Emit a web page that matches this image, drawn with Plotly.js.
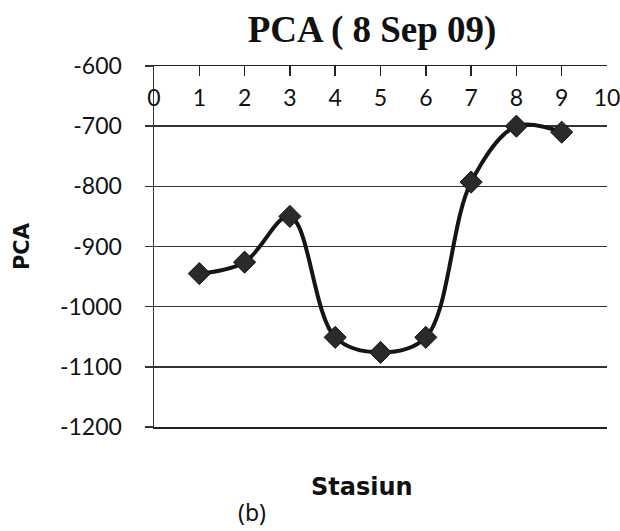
<!DOCTYPE html>
<html>
<head>
<meta charset="utf-8">
<script src="https://cdn.plot.ly/plotly-3.0.1.min.js"></script>
<style>html,body{margin:0;padding:0;background:#fff;}#chart{width:620px;height:531px;}</style>
</head>
<body>
<div id="chart"></div>
<script>
const stations = [1, 2, 3, 4, 5, 6, 7, 8, 9];
const pcaValues = [-945, -926, -850, -1051, -1076, -1051, -793, -700, -710];
const xTicks = [0, 1, 2, 3, 4, 5, 6, 7, 8, 9, 10];
const yTicks = [-600, -700, -800, -900, -1000, -1100, -1200];

const trace = {
  x: stations,
  y: pcaValues,
  type: 'scatter',
  mode: 'lines+markers',
  line: {shape: 'spline', smoothing: 1, color: '#151515', width: 4},
  marker: {symbol: 'diamond', size: 17, color: '#2a2a2a', line: {color: '#111', width: 1}},
  hoverinfo: 'none'
};

// invisible companion trace so the label axis (x2) is drawn
const labelTrace = {
  x: stations,
  y: pcaValues,
  xaxis: 'x2',
  type: 'scatter',
  mode: 'markers',
  marker: {opacity: 0},
  hoverinfo: 'none'
};

const tickFont = {family: 'Lato, Carlito, sans-serif', size: 23, color: '#111'};

const layout = {
  width: 620, height: 531,
  margin: {l: 154, r: 13, t: 66, b: 104},
  paper_bgcolor: '#fff', plot_bgcolor: '#fff',
  showlegend: false,
  title: {
    text: '<b>PCA ( 8 Sep 09)</b>',
    font: {family: 'Liberation Serif, Times New Roman, serif', size: 37, color: '#111'},
    x: 0.6, xanchor: 'center', y: 0.945, yanchor: 'middle'
  },
  xaxis: {
    range: [0, 10], side: 'top', tickvals: xTicks,
    ticks: 'inside', ticklen: 10, tickwidth: 1.5, tickcolor: '#222',
    showticklabels: false,
    showline: true, linecolor: '#222', linewidth: 1.5, mirror: true,
    showgrid: false, zeroline: false
  },
  xaxis2: {
    range: [0, 10], overlaying: 'x', anchor: 'free', side: 'bottom', position: 0.955,
    tickvals: xTicks, ticktext: xTicks.map(String), ticks: '', showline: false,
    ticklabeloverflow: 'allow',
    showgrid: false, zeroline: false, tickfont: tickFont
  },
  yaxis: {
    range: [-1200, -600], tickvals: yTicks, ticktext: yTicks.map(String),
    showline: true, linecolor: '#333', linewidth: 1.5,
    showgrid: true, gridcolor: '#333', gridwidth: 1.5, zeroline: false,
    ticks: 'outside', ticklen: 8, tickwidth: 1.5, tickcolor: '#333', ticklabelstandoff: 18,
    tickfont: tickFont,
    title: {text: '<b>PCA</b>', font: {family: 'DejaVu Sans, sans-serif', size: 21, color: '#111'}, standoff: 24}
  },
  annotations: [
    {text: '<b>Stasiun</b>', xref: 'paper', yref: 'paper', x: 0.459, y: -0.166, xanchor: 'center', yanchor: 'middle', showarrow: false,
     font: {family: 'DejaVu Sans, sans-serif', size: 24, color: '#111'}},
    {text: '(b)', xref: 'paper', yref: 'paper', x: 0.216, y: -0.235, xanchor: 'center', yanchor: 'middle', showarrow: false,
     font: {family: 'Noto Sans, sans-serif', size: 23, color: '#111'}}
  ]
};

Plotly.newPlot('chart', [trace, labelTrace], layout, {displayModeBar: false, staticPlot: true});
</script>
</body>
</html>
